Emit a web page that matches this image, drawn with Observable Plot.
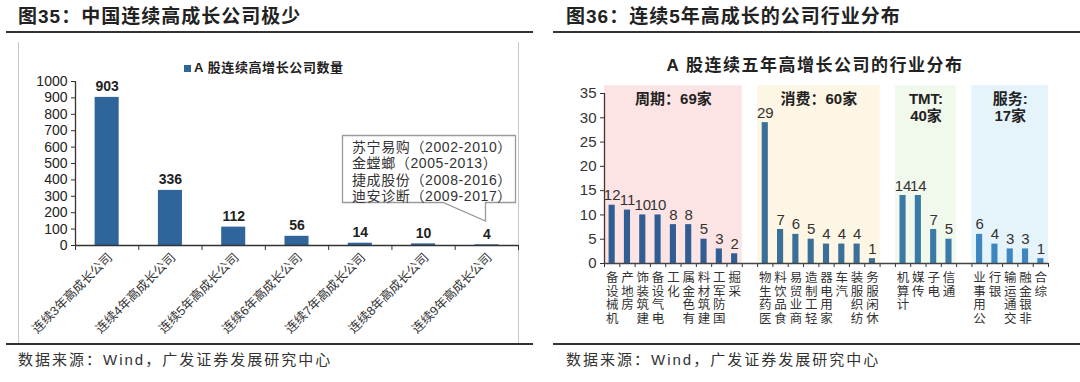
<!DOCTYPE html>
<html><head><meta charset="utf-8">
<script src="https://cdn.jsdelivr.net/npm/d3@7"></script>
<script src="https://cdn.jsdelivr.net/npm/@observablehq/plot@0.6"></script>
<style>
body{margin:0;background:#fff;}
#root{position:relative;width:1080px;height:382px;overflow:hidden;font-family:"Liberation Sans","Noto Sans CJK SC",sans-serif;}
.abs{position:absolute;}
.title{font-size:19px;font-weight:bold;letter-spacing:1px;color:#222;white-space:nowrap;line-height:1;}
.rule{position:absolute;height:0;border-top:2px solid #333;}
.src{font-size:15px;letter-spacing:2px;color:#333;white-space:nowrap;line-height:1;}
.vline{position:absolute;width:0;border-left:1px solid #c8c8c8;}
</style></head>
<body><div id="root"></div>
<script>
// ---------- Left chart data ----------
const leftCategories = ["连续3年高成长公司","连续4年高成长公司","连续5年高成长公司","连续6年高成长公司","连续7年高成长公司","连续8年高成长公司","连续9年高成长公司"];
const leftValues = [903, 336, 112, 56, 14, 10, 4];
const leftYTicks = [0,100,200,300,400,500,600,700,800,900,1000];
const leftLegend = "A 股连续高增长公司数量";
const calloutLines = ["苏宁易购（2002-2010）","金螳螂（2005-2013）","捷成股份（2008-2016）","迪安诊断（2009-2017）"];

// ---------- Right chart data ----------
const cycleIndustries = ["机械设备","房地产","建筑装饰","电气设备","化工","有色金属","建筑材料","国防军工","采掘"];
const cycleCounts = [12,11,10,10,8,8,5,3,2];
const consumerIndustries = ["医药生物","食品饮料","商业贸易","轻工制造","家用电器","汽车","纺织服装","休闲服务"];
const consumerCounts = [29,7,6,5,4,4,4,1];
const tmtIndustries = ["计算机","传媒","电子","通信"];
const tmtCounts = [14,14,7,5];
const serviceIndustries = ["公用事业","银行","交通运输","非银金融","综合"];
const serviceCounts = [6,4,3,3,1];
const groupNames = ["周期：69家","消费：60家","TMT:\n40家","服务:\n17家"];
const groupShades = ["#fce4e4","#fef6e4","#f1f8ec","#e5f4fb"];
const groupBarColors = ["#2f5d94","#3a6f97","#3a7aa6","#3d86c0"];
const rightYTicks = [0,5,10,15,20,25,30,35];
const rightTitle = "A 股连续五年高增长公司的行业分布";

const FONT = '"Liberation Sans","Noto Sans CJK SC",sans-serif';
const root = document.getElementById("root");
function add(html){ root.insertAdjacentHTML("beforeend", html); }

// Page chrome
add(`<div class="abs title" style="left:18px;top:7px;">图35：中国连续高成长公司极少</div>`);
add(`<div class="abs title" style="left:566px;top:7px;">图36：连续5年高成长的公司行业分布</div>`);
add(`<div class="rule" style="left:6px;width:527px;top:31px;"></div>`);
add(`<div class="rule" style="left:553px;width:527px;top:31px;"></div>`);
add(`<div class="rule" style="left:6px;width:527px;top:343px;"></div>`);
add(`<div class="rule" style="left:553px;width:527px;top:343px;"></div>`);
add(`<div class="vline" style="left:18px;top:42px;height:301px;"></div>`);
add(`<div class="vline" style="left:518px;top:42px;height:301px;"></div>`);
add(`<div class="abs src" style="left:18px;top:352px;">数据来源：Wind，广发证券发展研究中心</div>`);
add(`<div class="abs src" style="left:566px;top:352px;">数据来源：Wind，广发证券发展研究中心</div>`);

// ---------- Left plot ----------
const barColor = "#2f659b";
const leftRows = leftCategories.map((c, i) => ({c, v: leftValues[i], i}));
const bw = 0.38;
const leftPlot = Plot.plot({
  width: 540, height: 300,
  marginLeft: 75, marginRight: 22, marginTop: 41, marginBottom: 95,
  x: {domain: [0, leftCategories.length], axis: null, label: null},
  y: {domain: [0, 1000], axis: null, label: null},
  style: {fontFamily: FONT, fontSize: "13px", color: "#222", overflow: "visible", background: "transparent"},
  marks: [
    Plot.axisY({ticks: leftYTicks, tickSize: 4, tickPadding: 4, tickFormat: d => String(d), fontSize: 14, stroke: "#333", label: null}),
    Plot.axisX({ticks: d3.range(0, leftCategories.length + 1), tickSize: 5, tickFormat: () => "", stroke: "#333", label: null}),
    Plot.rectY(leftRows, {x1: d => d.i + 0.5 - bw/2, x2: d => d.i + 0.5 + bw/2, y1: 0, y2: "v", fill: barColor}),
    Plot.ruleY([0], {stroke: "#333", strokeWidth: 1.3}),
    Plot.ruleX([0], {stroke: "#333", strokeWidth: 1.3}),
    Plot.text(leftRows, {x: d => d.i + 0.5, y: "v", text: d => String(d.v), dy: -6, lineAnchor: "bottom", fontWeight: "bold", fontSize: 14, fill: "#222"}),
    Plot.text(leftRows, {x: d => d.i + 0.5, y: 0, text: "c", rotate: -45, textAnchor: "end", lineAnchor: "middle", dx: 3, dy: 10, fontSize: 12.5, fill: "#333"})
  ]
});
leftPlot.style.position = "absolute"; leftPlot.style.left = "0px"; leftPlot.style.top = "40px";
root.appendChild(leftPlot);

// legend
add(`<div class="abs" style="left:184px;top:65px;width:7px;height:7px;background:${barColor};"></div>`);
add(`<div class="abs" style="left:194px;top:61px;font-size:13px;font-weight:bold;letter-spacing:0.6px;color:#222;line-height:14px;white-space:nowrap;">${leftLegend}</div>`);

// callout
add(`<svg class="abs" style="left:0;top:0;" width="540" height="382"><path d="M342.5,135.5 H515.5 V202.5 H485.5 V221 L443,202.5 H342.5 Z" fill="#fff" stroke="#9a9a9a" stroke-width="1.3"/></svg>`);
add(`<div class="abs" style="left:352px;top:139px;font-size:14px;line-height:16.3px;color:#333;letter-spacing:0.6px;white-space:nowrap;">${calloutLines.join("<br>")}</div>`);

// ---------- Right plot ----------
const groups = [
  {names: cycleIndustries, counts: cycleCounts},
  {names: consumerIndustries, counts: consumerCounts},
  {names: tmtIndustries, counts: tmtCounts},
  {names: serviceIndustries, counts: serviceCounts}
];
const rightRows = [];
const groupSpans = [];
let slot = 0;
groups.forEach((g, gi) => {
  if (gi > 0) slot += 1; // empty separator category
  const start = slot;
  g.names.forEach((n, k) => { rightRows.push({name: n, v: g.counts[k], i: slot, g: gi}); slot += 1; });
  groupSpans.push({g: gi, x1: start, x2: slot, label: groupNames[gi], shade: groupShades[gi]});
});
const nSlots = slot;
const rbw = 0.4;
const rightPlot = Plot.plot({
  width: 540, height: 300,
  marginLeft: 64, marginRight: 32, marginTop: 53, marginBottom: 77,
  x: {domain: [0, nSlots], axis: null, label: null},
  y: {domain: [0, 35], axis: null, label: null},
  style: {fontFamily: FONT, fontSize: "14px", color: "#222", overflow: "visible", background: "transparent"},
  marks: [
    Plot.rect(groupSpans, {x1: "x1", x2: "x2", y1: 0, y2: 36.6, fill: "shade"}),
    Plot.text(groupSpans, {x: d => (d.x1 + d.x2) / 2, y: 36.6, text: "label", lineAnchor: "top", dy: 5, fontWeight: "bold", fontSize: 15, lineHeight: 1.2, fill: "#222"}),
    Plot.axisY({ticks: rightYTicks, tickSize: 4, tickPadding: 4, fontSize: 15, stroke: "#333", fill: "#333", label: null}),
    Plot.axisX({ticks: d3.range(0, nSlots + 1), tickSize: 4, tickFormat: () => "", stroke: "#333", label: null}),
    Plot.rectY(rightRows, {x1: d => d.i + 0.5 - rbw/2, x2: d => d.i + 0.5 + rbw/2, y1: 0, y2: "v", fill: d => groupBarColors[d.g]}),
    Plot.ruleY([0], {stroke: "#444", strokeWidth: 1.3}),
    Plot.ruleX([0], {stroke: "#4a3333", strokeWidth: 1.3}),
    Plot.text(rightRows, {x: d => d.i + 0.5, y: "v", text: d => String(d.v), dy: -5, lineAnchor: "bottom", fontSize: 15, fill: "#333"}),
    Plot.text(rightRows, {x: d => d.i + 0.5, y: 0, text: d => Array.from(d.name).reverse().join("\n"), lineAnchor: "top", dy: 9, fontSize: 12.5, lineHeight: 1.08, fill: "#333"})
  ]
});
rightPlot.style.position = "absolute"; rightPlot.style.left = "540px"; rightPlot.style.top = "40px";
root.appendChild(rightPlot);

add(`<div class="abs" style="left:560px;width:510px;top:57px;text-align:center;font-size:17px;font-weight:bold;letter-spacing:1.5px;color:#222;line-height:1;white-space:nowrap;">${rightTitle}</div>`);
</script>
</body></html>
